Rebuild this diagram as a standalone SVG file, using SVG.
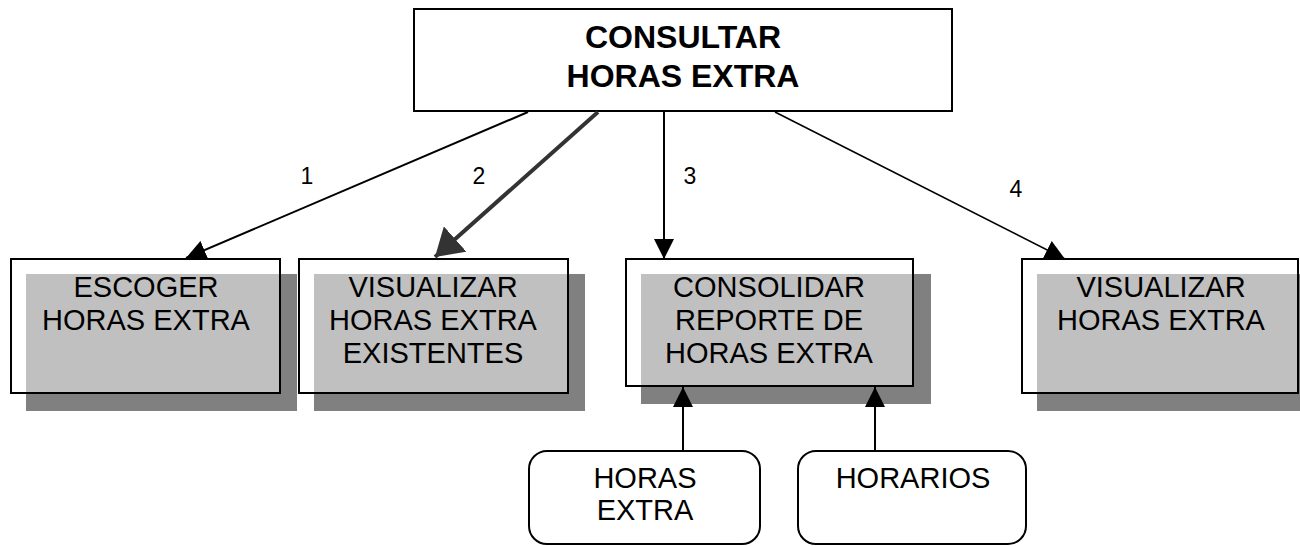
<svg xmlns="http://www.w3.org/2000/svg" width="1300" height="546" viewBox="0 0 1300 546">
<style>
text{font-family:"Liberation Sans",Arial,sans-serif;fill:#000;text-anchor:middle}
.t{font-size:29px}
.title{font-size:32px;font-weight:bold}
.lbl{font-size:23px}
.sh{fill:#808080}
.wh{fill:#fff}
.lg{fill:#c0c0c0}
.ol{fill:none;stroke:#000;stroke-width:2}
.rb{fill:#fff;stroke:#000;stroke-width:2}
.c{fill:none;stroke:#000;stroke-width:2}
</style>
<defs>
<marker id="ah" markerUnits="userSpaceOnUse" markerWidth="20" markerHeight="20" refX="20" refY="10" orient="auto" viewBox="0 0 20 20"><path d="M0,0 L20,10 L0,20 z" fill="#000"/></marker>
<marker id="ahg" markerUnits="userSpaceOnUse" markerWidth="27" markerHeight="34" refX="27" refY="17" orient="auto" viewBox="0 0 27 34"><path d="M0,0 L27,17 L0,34 z" fill="#333"/></marker>
</defs>
<rect width="1300" height="546" fill="#fff"/>
<g id="node-consultar">
<rect x="414" y="9" width="538" height="102" class="rb"/>
<text class="title" x="683" y="48">CONSULTAR</text>
<text class="title" x="683" y="87">HORAS EXTRA</text>
</g>
<g id="node-escoger">
<rect class="sh" x="26" y="274" width="271" height="137"/>
<rect class="wh" x="11" y="259" width="269" height="134"/>
<rect class="lg" x="26" y="274" width="254" height="119"/>
<rect class="ol" x="11" y="259" width="269" height="134"/>
<text class="t" x="146" y="297">ESCOGER</text>
<text class="t" x="146" y="330">HORAS EXTRA</text>
</g>
<g id="node-visualizar-existentes">
<rect class="sh" x="314" y="274" width="271" height="137"/>
<rect class="wh" x="299" y="259" width="269" height="134"/>
<rect class="lg" x="314" y="274" width="254" height="119"/>
<rect class="ol" x="299" y="259" width="269" height="134"/>
<text class="t" x="433" y="297">VISUALIZAR</text>
<text class="t" x="433" y="330">HORAS EXTRA</text>
<text class="t" x="433" y="363">EXISTENTES</text>
</g>
<g id="node-consolidar">
<rect class="sh" x="641" y="274" width="290" height="130"/>
<rect class="wh" x="626" y="259" width="287" height="127"/>
<rect class="lg" x="641" y="274" width="272" height="112"/>
<rect class="ol" x="626" y="259" width="287" height="127"/>
<text class="t" x="769" y="297">CONSOLIDAR</text>
<text class="t" x="769" y="330">REPORTE DE</text>
<text class="t" x="769" y="363">HORAS EXTRA</text>
</g>
<g id="node-visualizar">
<rect class="sh" x="1037" y="274" width="271" height="137"/>
<rect class="wh" x="1022" y="259" width="276" height="134"/>
<rect class="lg" x="1037" y="274" width="261" height="119"/>
<rect class="ol" x="1022" y="259" width="276" height="134"/>
<text class="t" x="1161" y="297">VISUALIZAR</text>
<text class="t" x="1161" y="330">HORAS EXTRA</text>
</g>
<g id="node-horas-extra">
<rect class="rb" x="529" y="451" width="231" height="93" rx="18" ry="18"/>
<text class="t" x="645" y="488">HORAS</text>
<text class="t" x="645" y="520">EXTRA</text>
</g>
<g id="node-horarios">
<rect class="rb" x="798" y="451" width="228" height="93" rx="18" ry="18"/>
<text class="t" x="913" y="488">HORARIOS</text>
</g>
<g id="connectors">
<line class="c" x1="528" y1="112" x2="186" y2="258" marker-end="url(#ah)"/>
<line x1="598" y1="112" x2="435" y2="257" stroke="#333" stroke-width="4" marker-end="url(#ahg)"/>
<line class="c" x1="664" y1="112" x2="664" y2="259" marker-end="url(#ah)"/>
<line x1="775" y1="112" x2="1065" y2="259" stroke="#000" stroke-width="1.6" marker-end="url(#ah)"/>
<line class="c" x1="683" y1="451" x2="683" y2="387" marker-end="url(#ah)"/>
<line class="c" x1="875" y1="451" x2="875" y2="387" marker-end="url(#ah)"/>
<text class="lbl" x="307" y="184">1</text>
<text class="lbl" x="479" y="184">2</text>
<text class="lbl" x="690" y="184">3</text>
<text class="lbl" x="1016" y="197">4</text>
</g>
</svg>
